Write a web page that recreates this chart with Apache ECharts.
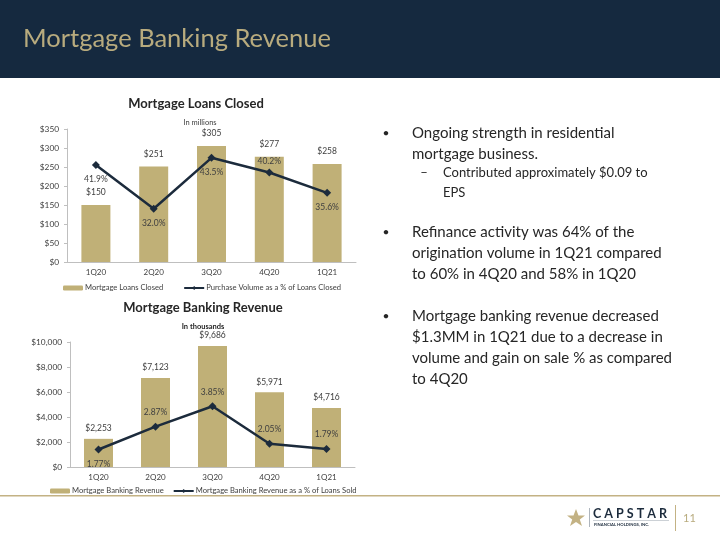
<!DOCTYPE html>
<html><head><meta charset="utf-8">
<script src="https://cdn.jsdelivr.net/npm/echarts@6/dist/echarts.min.js"></script>
<style>html,body{margin:0;padding:0;background:#fff}#c{width:720px;height:540px}</style>
</head><body><div id="c"></div>
<script>
const categories = ['1Q20','2Q20','3Q20','4Q20','1Q21'];
const loansClosed = [150, 251, 305, 277, 258];
const purchasePct = [41.9, 32.0, 43.5, 40.2, 35.6];
const bankingRevenue = [2253, 7123, 9686, 5971, 4716];
const revenuePct = [1.77, 2.87, 3.85, 2.05, 1.79];
const loansTicks = ['$0','$50','$100','$150','$200','$250','$300','$350'];
const revenueTicks = ['$0','$2,000','$4,000','$6,000','$8,000','$10,000'];

const FONT = 'Lato';
const GOLD = '#c0b077';
const NAVY = '#1c2b3c';
const TXT = '#404040';
const pctPos1 = ['bottom','bottom','bottom','top','bottom'];
const pctPos2 = ['bottom','top','top','top','top'];

const chart = echarts.init(document.getElementById('c'));
function catAxis(g){return {type:'category', gridIndex:g, data:categories,
  axisLine:{lineStyle:{color:'#bfbfbf'}}, axisTick:{show:false},
  axisLabel:{margin:6,fontFamily:FONT,fontSize:8,color:TXT}};}
const yLbl = {margin:8,fontFamily:FONT,fontSize:8.3,color:TXT};

chart.setOption({
  animation:false,
  textStyle:{fontFamily:FONT},
  grid:[{left:67,right:364,top:129,bottom:278},{left:70,right:365,top:342,bottom:73}],
  xAxis:[catAxis(0),catAxis(1)],
  yAxis:[
    {type:'value',gridIndex:0,min:0,max:350,interval:50,splitLine:{show:false},
     axisLine:{show:true,lineStyle:{color:'#bfbfbf'}},axisTick:{show:true,length:3,lineStyle:{color:'#bfbfbf'}},
     axisLabel:Object.assign({formatter:(v)=>loansTicks[v/50]},yLbl)},
    {type:'value',gridIndex:0,min:20,max:50,show:false,splitLine:{show:false}},
    {type:'value',gridIndex:1,min:0,max:10000,interval:2000,splitLine:{show:false},
     axisLine:{show:true,lineStyle:{color:'#bfbfbf'}},axisTick:{show:true,length:3,lineStyle:{color:'#bfbfbf'}},
     axisLabel:Object.assign({formatter:(v)=>revenueTicks[v/2000]},yLbl)},
    {type:'value',gridIndex:1,min:0.93,max:6.94,show:false,splitLine:{show:false}}
  ],
  legend:[
    {left:58,top:279,itemGap:20,itemWidth:20,itemHeight:5,textStyle:{fontFamily:FONT,fontSize:7.6,color:TXT,padding:[0,0,0,-3]},
     data:['Mortgage Loans Closed','Purchase Volume as a % of Loans Closed']},
    {left:45,top:482,itemGap:9,itemWidth:20,itemHeight:5,textStyle:{fontFamily:FONT,fontSize:7.6,color:TXT,padding:[0,0,0,-3]},
     data:['Mortgage Banking Revenue','Mortgage Banking Revenue as a % of Loans Sold']}
  ],
  series:[
    {name:'Mortgage Loans Closed',type:'bar',xAxisIndex:0,yAxisIndex:0,barWidth:29,data:loansClosed,
     itemStyle:{color:GOLD},
     label:{show:true,position:'top',distance:8,fontFamily:FONT,fontSize:8.5,color:TXT,formatter:(p)=>'$'+p.value}},
    {name:'Purchase Volume as a % of Loans Closed',type:'line',xAxisIndex:0,yAxisIndex:1,
     data:purchasePct.map((v,i)=>({value:v,label:{position:pctPos1[i],distance:pctPos1[i]==='top'?3:6}})),
     lineStyle:{color:NAVY,width:2.5},itemStyle:{color:NAVY},symbol:'diamond',symbolSize:8,
     label:{show:true,fontFamily:FONT,fontSize:8.5,color:TXT,formatter:(p)=>p.value.toFixed(1)+'%'}},
    {name:'Mortgage Banking Revenue',type:'bar',xAxisIndex:1,yAxisIndex:2,barWidth:29,data:bankingRevenue,
     itemStyle:{color:GOLD},
     label:{show:true,position:'top',distance:6,fontFamily:FONT,fontSize:8.5,color:TXT,formatter:(p)=>'$'+p.value.toLocaleString('en-US')}},
    {name:'Mortgage Banking Revenue as a % of Loans Sold',type:'line',xAxisIndex:1,yAxisIndex:3,
     data:revenuePct.map((v,i)=>({value:v,label:{position:pctPos2[i]}})),
     lineStyle:{color:NAVY,width:2.5},itemStyle:{color:NAVY},symbol:'diamond',symbolSize:8,
     label:{show:true,distance:6,fontFamily:FONT,fontSize:8.5,color:TXT,formatter:(p)=>p.value.toFixed(2)+'%'}}
  ],
  graphic:[
    {type:'rect',left:0,top:0,shape:{width:720,height:78},style:{fill:'#15293f'},z:-1},
    {type:'text',left:23,top:26,style:{text:'Mortgage Banking Revenue',fontFamily:FONT,fontSize:25.5,fill:'#b8ab7e'}},
    {type:'text',x:196,y:104,style:{text:'Mortgage Loans Closed',fontFamily:FONT,fontSize:13,fontWeight:'bold',fill:'#262626',align:'center',verticalAlign:'middle'}},
    {type:'text',x:200,y:123,style:{text:'In millions',fontFamily:FONT,fontSize:7.5,fill:TXT,align:'center',verticalAlign:'middle'}},
    {type:'text',x:203,y:308,style:{text:'Mortgage Banking Revenue',fontFamily:FONT,fontSize:13,fontWeight:'bold',fill:'#262626',align:'center',verticalAlign:'middle'}},
    {type:'text',x:203,y:327,style:{text:'In thousands',fontFamily:FONT,fontSize:7.5,fontWeight:'bold',fill:'#262626',align:'center',verticalAlign:'middle'}},
    {type:'rect',left:0,top:495,shape:{width:720,height:1.5},style:{fill:'#c3b284'}},
    {type:'text',x:386,y:133,style:{text:'•',fontFamily:FONT,fontSize:12,fill:'#262626',align:'center',verticalAlign:'middle'}},
    {type:'text',x:412,y:133,style:{text:'Ongoing strength in residential',fontFamily:FONT,fontSize:15,fill:'#262626',verticalAlign:'middle'}},
    {type:'text',x:412,y:154,style:{text:'mortgage business.',fontFamily:FONT,fontSize:15,fill:'#262626',verticalAlign:'middle'}},
    {type:'text',x:424,y:173,style:{text:'–',fontFamily:FONT,fontSize:13,fill:'#262626',align:'center',verticalAlign:'middle'}},
    {type:'text',x:443,y:173,style:{text:'Contributed approximately $0.09 to',fontFamily:FONT,fontSize:13,fill:'#262626',verticalAlign:'middle'}},
    {type:'text',x:443,y:193,style:{text:'EPS',fontFamily:FONT,fontSize:13,fill:'#262626',verticalAlign:'middle'}},
    {type:'text',x:386,y:232,style:{text:'•',fontFamily:FONT,fontSize:12,fill:'#262626',align:'center',verticalAlign:'middle'}},
    {type:'text',x:412,y:232,style:{text:'Refinance activity was 64% of the',fontFamily:FONT,fontSize:15,fill:'#262626',verticalAlign:'middle'}},
    {type:'text',x:412,y:253,style:{text:'origination volume in 1Q21 compared',fontFamily:FONT,fontSize:15,fill:'#262626',verticalAlign:'middle'}},
    {type:'text',x:412,y:274,style:{text:'to 60% in 4Q20 and 58% in 1Q20',fontFamily:FONT,fontSize:15,fill:'#262626',verticalAlign:'middle'}},
    {type:'text',x:386,y:316,style:{text:'•',fontFamily:FONT,fontSize:12,fill:'#262626',align:'center',verticalAlign:'middle'}},
    {type:'text',x:412,y:316,style:{text:'Mortgage banking revenue decreased',fontFamily:FONT,fontSize:15,fill:'#262626',verticalAlign:'middle'}},
    {type:'text',x:412,y:337,style:{text:'$1.3MM in 1Q21 due to a decrease in',fontFamily:FONT,fontSize:15,fill:'#262626',verticalAlign:'middle'}},
    {type:'text',x:412,y:358,style:{text:'volume and gain on sale % as compared',fontFamily:FONT,fontSize:15,fill:'#262626',verticalAlign:'middle'}},
    {type:'text',x:412,y:379,style:{text:'to 4Q20',fontFamily:FONT,fontSize:15,fill:'#262626',verticalAlign:'middle'}},
    {type:'polygon',shape:{points:[[576,509],[578.5,515.5],[585,515.5],[579.8,519.5],[582,526],[576,522],[570,526],[572.2,519.5],[567,515.5],[573.5,515.5]]},style:{fill:'#c3b284'}},
    {type:'rect',left:589,top:508,shape:{width:0.8,height:19},style:{fill:'#9aa3ad'}},
    {type:'text',x:593,y:513.5,style:{text:'C A P S T A R',fontFamily:FONT,fontSize:12.5,fontWeight:'bold',fill:'#1c2b3c',verticalAlign:'middle'}},
    {type:'rect',left:593,top:520,shape:{width:76,height:0.6},style:{fill:'#9aa3ad'}},
    {type:'text',x:594,y:524.5,style:{text:'FINANCIAL HOLDINGS, INC.',fontFamily:FONT,fontSize:4.2,fontWeight:'bold',fill:'#1c2b3c',verticalAlign:'middle'}},
    {type:'rect',left:675,top:505,shape:{width:1,height:26},style:{fill:'#c3b284'}},
    {type:'text',x:683,y:518,style:{text:'11',fontFamily:FONT,fontSize:11,fill:'#b8ab7e',verticalAlign:'middle'}}
  ]
});
</script></body></html>
